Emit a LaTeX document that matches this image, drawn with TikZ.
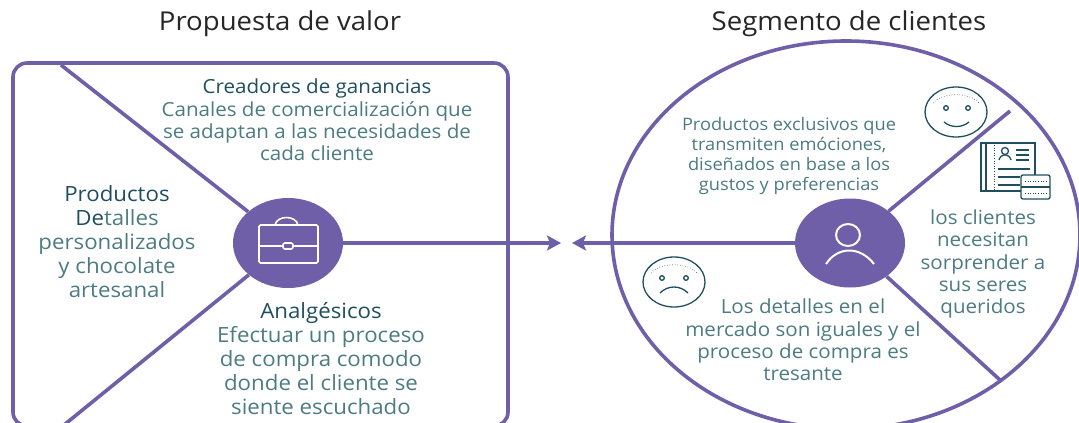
\documentclass[tikz,border=0pt]{standalone}
\usepackage{fontspec}
\setmainfont[FakeStretch=1.06]{Open Sans}
\usetikzlibrary{arrows.meta,shapes.geometric}
\definecolor{morado}{HTML}{6F5FA8}
\definecolor{tealosc}{HTML}{1F4F5F}
\definecolor{tealcla}{HTML}{4C7C82}
\tikzset{
  titulo/.style={text=black!85,font=\fontsize{26}{30}\selectfont,inner sep=0pt},
  texto/.style={text=tealcla,align=center,inner sep=0pt,font=\fontsize{21}{24}\selectfont},
  textomedio/.style={text=tealcla,align=center,inner sep=0pt,font=\fontsize{19.4}{22.4}\selectfont},
  textochico/.style={text=tealcla,align=center,inner sep=0pt,font=\fontsize{17.2}{20}\selectfont},
  disco/.style={ellipse,fill=morado,inner sep=0pt},
  linea/.style={draw=morado,line width=3.6pt},
  icono/.style={draw=white,line width=1.6pt},
  trazo/.style={draw=tealosc,line width=1.3pt},
  cara/.style={ellipse,draw=tealosc,line width=1.3pt,inner sep=0pt,minimum width=62pt,minimum height=50pt}
}
\newcommand{\osc}[1]{\textcolor{tealosc}{#1}}
\begin{document}
\begin{tikzpicture}[x=1pt,y=-1pt]
  \clip (0,0) rectangle (1079,423);
  \fill[white] (0,0) rectangle (1079,423);

  % cajas
  \draw[linea,rounded corners=14pt] (13,63) rectangle (508,426);
  \node[ellipse,linea,inner sep=0pt,minimum width=468pt,minimum height=388pt] (segmento) at (846,235) {};

  % discos
  \node[disco,minimum width=110pt,minimum height=90pt] (maletin) at (288,243) {};
  \node[disco,minimum width=110pt,minimum height=89pt] (persona) at (850,243) {};

  % extremos
  \coordinate (arribaizq) at (61,65);
  \coordinate (abajoizq) at (64,425);
  \coordinate (arribader) at (1010,111);
  \coordinate (abajoder) at (1000,380);
  \coordinate (puntader) at (561,243);
  \coordinate (puntaizq) at (572,243);

  \draw[linea] (maletin) -- (arribaizq);
  \draw[linea] (maletin) -- (abajoizq);
  \draw[linea] (persona) -- (arribader);
  \draw[linea] (persona) -- (abajoder);
  \draw[linea,-{Stealth[length=14pt,width=15pt,inset=3pt]}] (maletin) -- (puntader);
  \draw[linea,-{Stealth[length=14pt,width=15pt,inset=3pt]}] (persona) -- (puntaizq);

  % titulos
  \node[titulo] (tvalor) at (280,24) {Propuesta de valor};
  \node[titulo] (tclientes) at (849,24) {Segmento de clientes};

  % textos izquierda
  \node[textomedio] (creadores) at (317,120) {\osc{Creadores de ganancias}\\Canales de comercialización que\\se adaptan a las necesidades de\\cada cliente};
  \node[texto] (productos) at (117,242) {\osc{Productos}\\\osc{De}talles\\personalizados\\y chocolate\\artesanal};
  \node[texto] (analgesicos) at (321,359) {\osc{Analgésicos}\\Efectuar un proceso\\de compra comodo\\donde el cliente se\\siente escuchado};

  % textos derecha
  \node[textochico] (exclusivos) at (789,156) {Productos exclusivos que\\transmiten emóciones,\\diseñados en base a los\\gustos y preferencias};
  \node[textomedio] (necesitan) at (983,264) {los clientes\\necesitan\\sorprender a\\sus seres\\queridos};
  \node[textomedio] (iguales) at (803,340) {Los detalles en el\\mercado son iguales y el\\proceso de compra es\\tresante};

  % maletin
  \draw[icono,rounded corners=1.5pt] (259,225) rectangle (318,263);
  \draw[icono] (259,246) -- (283,246) (293,246) -- (318,246);
  \draw[icono,rounded corners=2pt] (283,243) rectangle (293,249);
  \draw[icono] (275,225) .. controls (277,215) and (296,215) .. (298,225);

  % persona
  \draw[icono,line width=2pt] (848,235) ellipse (12 and 11);
  \draw[icono,line width=2pt] (826,264) .. controls (838,246) and (860,246) .. (874,264);

  % caras
  \node[cara] (feliz) at (956,112) {};
  \draw[trazo] (946,108) circle (2.3) (968,108) circle (2.3);
  \draw[trazo] (944,122) .. controls (951,128) and (962,128) .. (969,122);
  \draw[trazo,line width=.6pt,dotted] (933,103) .. controls (942,92) and (970,92) .. (979,103);
  \node[cara] (triste) at (674,282) {};
  \draw[trazo] (662,278) circle (2.3) (686,278) circle (2.3);
  \draw[trazo] (660,293) .. controls (668,285) and (680,285) .. (688,293);
  \draw[trazo,line width=.6pt,dotted] (651,273) .. controls (660,262) and (688,262) .. (697,273);

  % ficha
  \draw[trazo] (981,143) rectangle (1035,191);
  \draw[trazo] (986,143) -- (986,191);
  \draw[trazo,line width=.6pt,dotted] (994,145) -- (994,190);
  \draw[trazo] (1005,151) circle (3.5);
  \draw[trazo] (999,160) .. controls (1001,153) and (1009,153) .. (1011,160);
  \draw[trazo] (1016,150) -- (1029,150) (1016,155) -- (1029,155) (1016,160) -- (1029,160);
  \draw[trazo] (998,169) -- (1030,169) (998,177) -- (1020,177) (998,185) -- (1020,185);
  \draw[trazo,fill=white,rounded corners=2pt] (1021,175) rectangle (1050,199);
  \draw[trazo] (1021,187) -- (1050,187);
  \draw[trazo,line width=.6pt,dotted] (1025,181) -- (1046,181) (1025,193) -- (1046,193);
\end{tikzpicture}
\end{document}
